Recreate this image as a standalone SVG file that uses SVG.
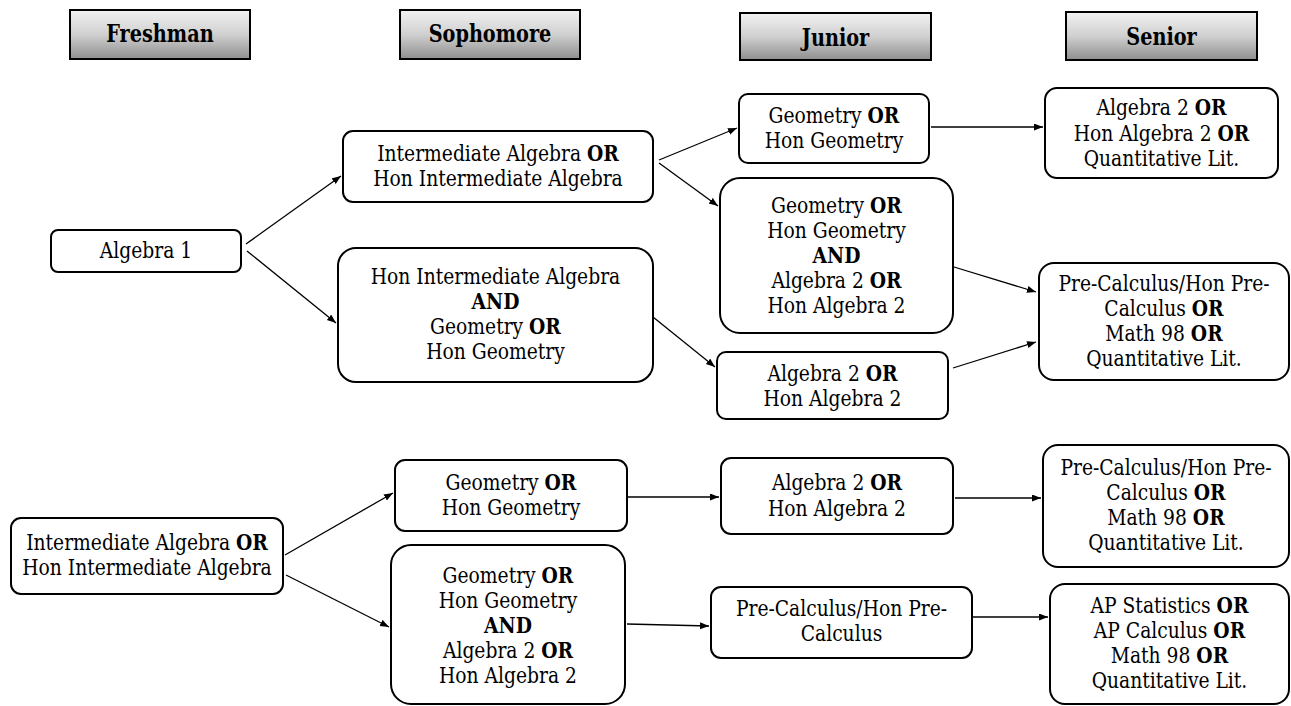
<svg xmlns="http://www.w3.org/2000/svg" width="1291" height="706" viewBox="0 0 1291 706">
<defs>
<linearGradient id="hdr" x1="0" y1="0" x2="0" y2="1">
<stop offset="0" stop-color="#f2f2f2"/>
<stop offset="0.5" stop-color="#d0d0d0"/>
<stop offset="1" stop-color="#8e8e8e"/>
</linearGradient>
<marker id="ah" markerUnits="userSpaceOnUse" markerWidth="10" markerHeight="8" refX="9" refY="3.5" orient="auto">
<path d="M0,0 L9,3.5 L0,7 z" fill="#000"/>
</marker>
</defs>
<style>
text{font-family:'DejaVu Serif',serif;fill:#000;text-anchor:middle}
.hb{fill:url(#hdr);stroke:#000;stroke-width:2}
.ht{font-size:23.5px;font-weight:bold}
.nb{fill:#fff;stroke:#000;stroke-width:2}
.nt{font-size:21.5px}
.b{font-weight:bold}
.cn line{stroke:#000;stroke-width:1.3;marker-end:url(#ah)}
</style>
<rect width="1291" height="706" fill="#fff"/>

<g id="h_freshman"><rect class="hb" x="70" y="10" width="180" height="49"/><text class="ht" transform="matrix(0.82 0 0 1 160 0)" x="0" y="42">Freshman</text></g>
<g id="h_sophomore"><rect class="hb" x="400" y="10" width="180" height="49"/><text class="ht" transform="matrix(0.82 0 0 1 490 0)" x="0" y="42">Sophomore</text></g>
<g id="h_junior"><rect class="hb" x="740" y="13" width="191" height="47"/><text class="ht" transform="matrix(0.82 0 0 1 835.5 0)" x="0" y="46">Junior</text></g>
<g id="h_senior"><rect class="hb" x="1066" y="12" width="191" height="48"/><text class="ht" transform="matrix(0.82 0 0 1 1161.5 0)" x="0" y="45">Senior</text></g>

<g id="n_alg1"><rect class="nb" x="51" y="230" width="190" height="42" rx="7"/>
<g transform="matrix(0.87 0 0 1 146 0)"><text class="nt" x="0" y="258">Algebra 1</text></g></g>

<g id="n_soph_ia"><rect class="nb" x="343" y="131" width="310" height="71" rx="10"/>
<g transform="matrix(0.87 0 0 1 498 0)">
<text class="nt" x="0" y="161">Intermediate Algebra <tspan class="b">OR</tspan></text>
<text class="nt" x="0" y="186">Hon Intermediate Algebra</text></g></g>

<g id="n_soph_hia"><rect class="nb" x="338" y="248" width="315" height="134" rx="18"/>
<g transform="matrix(0.87 0 0 1 495.5 0)">
<text class="nt" x="0" y="284">Hon Intermediate Algebra</text>
<text class="nt b" x="0" y="309">AND</text>
<text class="nt" x="0" y="334">Geometry <tspan class="b">OR</tspan></text>
<text class="nt" x="0" y="359">Hon Geometry</text></g></g>

<g id="n_jun_geo"><rect class="nb" x="739" y="94" width="190" height="69" rx="9"/>
<g transform="matrix(0.87 0 0 1 834 0)">
<text class="nt" x="0" y="123">Geometry <tspan class="b">OR</tspan></text>
<text class="nt" x="0" y="148">Hon Geometry</text></g></g>

<g id="n_jun_mid"><rect class="nb" x="720" y="178" width="233" height="155" rx="20"/>
<g transform="matrix(0.87 0 0 1 836.5 0)">
<text class="nt" x="0" y="213">Geometry <tspan class="b">OR</tspan></text>
<text class="nt" x="0" y="238">Hon Geometry</text>
<text class="nt b" x="0" y="263">AND</text>
<text class="nt" x="0" y="288">Algebra 2 <tspan class="b">OR</tspan></text>
<text class="nt" x="0" y="313">Hon Algebra 2</text></g></g>

<g id="n_jun_low"><rect class="nb" x="717" y="352" width="231" height="67" rx="9"/>
<g transform="matrix(0.87 0 0 1 832.5 0)">
<text class="nt" x="0" y="381">Algebra 2 <tspan class="b">OR</tspan></text>
<text class="nt" x="0" y="406">Hon Algebra 2</text></g></g>

<g id="n_sen_top"><rect class="nb" x="1045" y="88" width="233" height="90" rx="12"/>
<g transform="matrix(0.87 0 0 1 1161.5 0)">
<text class="nt" x="0" y="115">Algebra 2 <tspan class="b">OR</tspan></text>
<text class="nt" x="0" y="141">Hon Algebra 2 <tspan class="b">OR</tspan></text>
<text class="nt" x="0" y="166">Quantitative Lit.</text></g></g>

<g id="n_sen_mid"><rect class="nb" x="1039" y="263" width="250" height="117" rx="15"/>
<g transform="matrix(0.87 0 0 1 1164 0)">
<text class="nt" x="0" y="291">Pre-Calculus/Hon Pre-</text>
<text class="nt" x="0" y="316">Calculus <tspan class="b">OR</tspan></text>
<text class="nt" x="0" y="341">Math 98 <tspan class="b">OR</tspan></text>
<text class="nt" x="0" y="366">Quantitative Lit.</text></g></g>

<g id="n_fresh_ia"><rect class="nb" x="11" y="518" width="272" height="76" rx="10"/>
<g transform="matrix(0.87 0 0 1 147 0)">
<text class="nt" x="0" y="550">Intermediate Algebra <tspan class="b">OR</tspan></text>
<text class="nt" x="0" y="575">Hon Intermediate Algebra</text></g></g>

<g id="n_soph_geo"><rect class="nb" x="395" y="460" width="232" height="71" rx="10"/>
<g transform="matrix(0.87 0 0 1 511 0)">
<text class="nt" x="0" y="490">Geometry <tspan class="b">OR</tspan></text>
<text class="nt" x="0" y="515">Hon Geometry</text></g></g>

<g id="n_soph_and"><rect class="nb" x="391" y="545" width="234" height="159" rx="20"/>
<g transform="matrix(0.87 0 0 1 508 0)">
<text class="nt" x="0" y="583">Geometry <tspan class="b">OR</tspan></text>
<text class="nt" x="0" y="608">Hon Geometry</text>
<text class="nt b" x="0" y="633">AND</text>
<text class="nt" x="0" y="658">Algebra 2 <tspan class="b">OR</tspan></text>
<text class="nt" x="0" y="683">Hon Algebra 2</text></g></g>

<g id="n_jun_alg2"><rect class="nb" x="721" y="458" width="232" height="76" rx="10"/>
<g transform="matrix(0.87 0 0 1 837 0)">
<text class="nt" x="0" y="490">Algebra 2 <tspan class="b">OR</tspan></text>
<text class="nt" x="0" y="516">Hon Algebra 2</text></g></g>

<g id="n_jun_pre"><rect class="nb" x="711" y="587" width="261" height="71" rx="10"/>
<g transform="matrix(0.87 0 0 1 841.5 0)">
<text class="nt" x="0" y="616">Pre-Calculus/Hon Pre-</text>
<text class="nt" x="0" y="641">Calculus</text></g></g>

<g id="n_sen_pre"><rect class="nb" x="1043" y="445" width="246" height="122" rx="15"/>
<g transform="matrix(0.87 0 0 1 1166 0)">
<text class="nt" x="0" y="475">Pre-Calculus/Hon Pre-</text>
<text class="nt" x="0" y="500">Calculus <tspan class="b">OR</tspan></text>
<text class="nt" x="0" y="525">Math 98 <tspan class="b">OR</tspan></text>
<text class="nt" x="0" y="550">Quantitative Lit.</text></g></g>

<g id="n_sen_ap"><rect class="nb" x="1050" y="584" width="239" height="120" rx="15"/>
<g transform="matrix(0.87 0 0 1 1169.5 0)">
<text class="nt" x="0" y="613">AP Statistics <tspan class="b">OR</tspan></text>
<text class="nt" x="0" y="638">AP Calculus <tspan class="b">OR</tspan></text>
<text class="nt" x="0" y="663">Math 98 <tspan class="b">OR</tspan></text>
<text class="nt" x="0" y="688">Quantitative Lit.</text></g></g>

<g id="connectors" class="cn">
<line x1="246" y1="244" x2="341" y2="176"/>
<line x1="247" y1="251" x2="336" y2="323"/>
<line x1="659" y1="160" x2="737" y2="128"/>
<line x1="659" y1="163" x2="718" y2="206"/>
<line x1="653" y1="317" x2="715" y2="367"/>
<line x1="931" y1="127" x2="1043" y2="127"/>
<line x1="954" y1="267" x2="1036" y2="292"/>
<line x1="953" y1="368" x2="1036" y2="342"/>
<line x1="285" y1="555" x2="393" y2="493"/>
<line x1="286" y1="575" x2="389" y2="627"/>
<line x1="628" y1="497" x2="719" y2="497"/>
<line x1="627" y1="624" x2="709" y2="626"/>
<line x1="955" y1="498" x2="1041" y2="498"/>
<line x1="973" y1="617" x2="1048" y2="617"/>
</g>
</svg>
